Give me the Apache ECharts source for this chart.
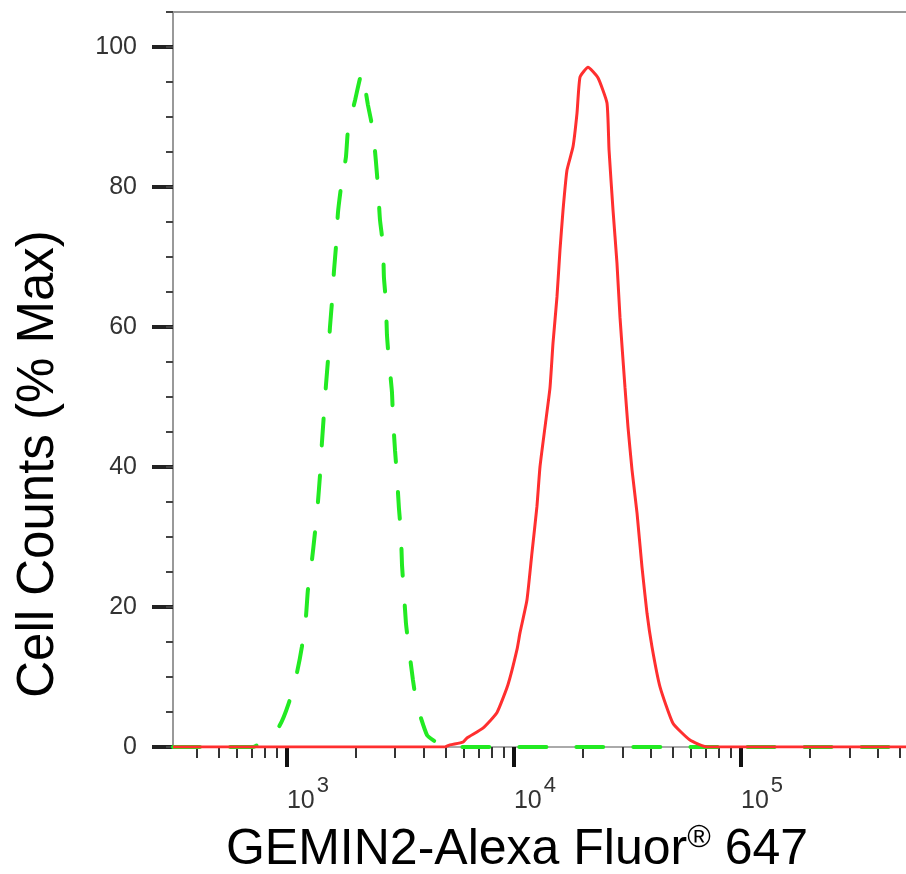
<!DOCTYPE html>
<html>
<head>
<meta charset="utf-8">
<script src="https://cdn.jsdelivr.net/npm/echarts@6/dist/echarts.min.js"></script>
<style>
html,body{margin:0;padding:0;background:#fff;}
#chart{width:906px;height:874px;}
</style>
</head>
<body>
<div id="chart"></div>
<script>
// ---- data ----
// Isotype control (green dashed): fluorescence intensity and % max
const greenX = [315, 708, 922, 1020, 1107, 1164, 1213, 1237, 1289, 1329, 1370, 1397, 1426, 1486, 1517, 1547, 1578, 1611, 1644, 1678, 1730, 1820, 1858, 1996, 2140, 2275, 2393, 2467, 2518, 2570, 2650, 2675, 2729, 2758, 2813, 2902, 2932, 2993, 3055, 3115, 3178, 3213, 3276, 3344, 3446, 3589, 3740, 4141, 4582, 4966, 533000];
const greenY = [0, 0, 2.9, 6.3, 10.6, 14.3, 18.6, 22.4, 26.7, 30.6, 35.0, 38.6, 43.4, 51.7, 55.3, 59.9, 63.4, 67.9, 71.4, 76.3, 79.9, 84.3, 88.1, 92.4, 96.4, 91.7, 88.1, 83.6, 80.0, 75.3, 71.7, 67.1, 63.6, 58.9, 55.3, 50.7, 47.1, 42.4, 38.6, 34.1, 30.6, 26.0, 22.1, 17.7, 14.1, 9.6, 6.0, 1.7, 0.6, 0, 0];
// GEMIN2 stained (red solid)
const redX = [315, 3853, 4966, 5226, 5960, 6208, 7300, 8410, 9410, 10310, 10630, 11410, 12000, 12620, 13020, 13700, 14410, 14860, 15470, 15950, 16450, 17120, 18190, 18960, 19540, 21190, 23440, 25690, 26230, 27310, 28430, 29310, 30830, 31790, 33110, 34840, 36640, 38550, 40560, 43980, 50150, 59570, 70760, 533000];
const redY = [0, 0, 0, 0.3, 0.7, 1.3, 2.7, 4.9, 8.9, 13.9, 16.3, 21.0, 27.7, 34.3, 40.0, 45.7, 51.3, 57.7, 64.3, 71.0, 76.7, 82.4, 85.7, 90.6, 95.7, 97.1, 95.6, 92.0, 85.3, 76.7, 69.1, 61.4, 51.4, 45.7, 39.6, 33.4, 25.7, 19.1, 14.3, 8.6, 3.4, 1.0, 0, 0];

// axes
const xRange = [315, 533000];
const yRange = [0, 105];
const xMajorTicks = [1000, 10000, 100000];
const xMajorExponents = ['3', '4', '5'];
const xMinorTicks = [400, 500, 600, 700, 800, 900,
  2000, 3000, 4000, 5000, 6000, 7000, 8000, 9000,
  20000, 30000, 40000, 50000, 60000, 70000, 80000, 90000,
  200000, 300000, 400000, 500000];
const yMajorTicks = [0, 20, 40, 60, 80, 100];
const yMinorStep = 5;

const xTitle = 'GEMIN2-Alexa Fluor';
const xTitleMark = '®';
const xTitleTail = ' 647';
const yTitle = 'Cell Counts (% Max)';

function pairs(xs, ys) { return xs.map((x, i) => [x, ys[i]]); }

const chart = echarts.init(document.getElementById('chart'), null, {renderer: 'canvas'});
const option = {
  backgroundColor: '#ffffff',
  animation: false,
  grid: {left: 173, right: 0, top: 12, bottom: 127, containLabel: false},
  xAxis: [
    {
      type: 'log', logBase: 10, min: xRange[0], max: xRange[1], position: 'bottom',
      axisLine: {show: true, lineStyle: {color: '#aaaaaa', width: 2}},
      axisTick: {show: true, customValues: xMajorTicks, length: 20, lineStyle: {color: '#111111', width: 4}},
      axisLabel: {
        show: true, customValues: xMajorTicks, margin: 28, align: 'left', verticalAlign: 'top',
        formatter: function (v) {
          let i = xMajorTicks.indexOf(v);
          const e = i >= 0 ? xMajorExponents[i] : String(Math.round(Math.log10(v)));
          return '{b|10}{s|' + e + '}';
        },
        rich: {
          b: {fontSize: 25, fontFamily: 'Liberation Sans, Arial, sans-serif', color: '#333', verticalAlign: 'middle', lineHeight: 52},
          s: {fontSize: 22, fontFamily: 'Liberation Sans, Arial, sans-serif', color: '#333', verticalAlign: 'top', lineHeight: 22, padding: [0, 0, 0, 2]}
        }
      },
      splitLine: {show: false}
    },
    {
      type: 'log', logBase: 10, min: xRange[0], max: xRange[1], position: 'bottom',
      axisLine: {show: false},
      axisTick: {show: true, customValues: xMinorTicks, length: 11, lineStyle: {color: '#333333', width: 2}},
      axisLabel: {show: false},
      splitLine: {show: false}
    },
    {
      type: 'log', logBase: 10, min: xRange[0], max: xRange[1], position: 'top',
      axisLine: {show: true, lineStyle: {color: '#999999', width: 2}},
      axisTick: {show: false}, axisLabel: {show: false}, splitLine: {show: false}
    }
  ],
  yAxis: [
    {
      type: 'value', min: yRange[0], max: yRange[1], position: 'left',
      axisLine: {show: true, lineStyle: {color: '#999999', width: 2}},
      axisTick: {show: true, customValues: yMajorTicks, length: 21, lineStyle: {color: '#222222', width: 4}},
      axisLabel: {show: true, customValues: yMajorTicks, margin: 36, fontSize: 25,
        fontFamily: 'Liberation Sans Narrow, Arial Narrow, Liberation Sans, sans-serif', color: '#333'},
      splitLine: {show: false}
    },
    {
      type: 'value', min: yRange[0], max: yRange[1], interval: yMinorStep, position: 'left',
      axisLine: {show: false},
      axisTick: {show: true, length: 7, lineStyle: {color: '#444444', width: 2}},
      axisLabel: {show: false},
      splitLine: {show: false}
    }
  ],
  series: [
    {
      name: 'Isotype', type: 'line', xAxisIndex: 0, yAxisIndex: 0,
      data: pairs(greenX, greenY), showSymbol: false, symbol: 'none',
      smooth: 0.15,
      lineStyle: {color: '#22ea22', width: 4, type: [27, 30], cap: 'round'},
      z: 3
    },
    {
      name: 'GEMIN2', type: 'line', xAxisIndex: 0, yAxisIndex: 0,
      data: pairs(redX, redY), showSymbol: false, symbol: 'none',
      smooth: 0.15,
      lineStyle: {color: '#ff2f2f', width: 3},
      z: 4
    }
  ],
  graphic: [
    {
      type: 'text', x: 39, y: 464, rotation: Math.PI / 2,
      style: {text: yTitle, align: 'center', verticalAlign: 'middle',
        font: '51px "Liberation Sans", Arial, sans-serif', fill: '#000'}
    },
    {
      type: 'text', x: 517, y: 850,
      style: {
        text: '{a|' + xTitle + '}{r|' + xTitleMark + '}{a|' + xTitleTail + '}',
        align: 'center', verticalAlign: 'middle',
        rich: {
          a: {fontSize: 50, fontFamily: 'Liberation Sans, Arial, sans-serif', fill: '#000', verticalAlign: 'middle', lineHeight: 56},
          r: {fontSize: 32, fontFamily: 'Liberation Sans, Arial, sans-serif', fill: '#000', verticalAlign: 'top', lineHeight: 32}
        }
      }
    }
  ]
};
chart.setOption(option);
</script>
</body>
</html>
